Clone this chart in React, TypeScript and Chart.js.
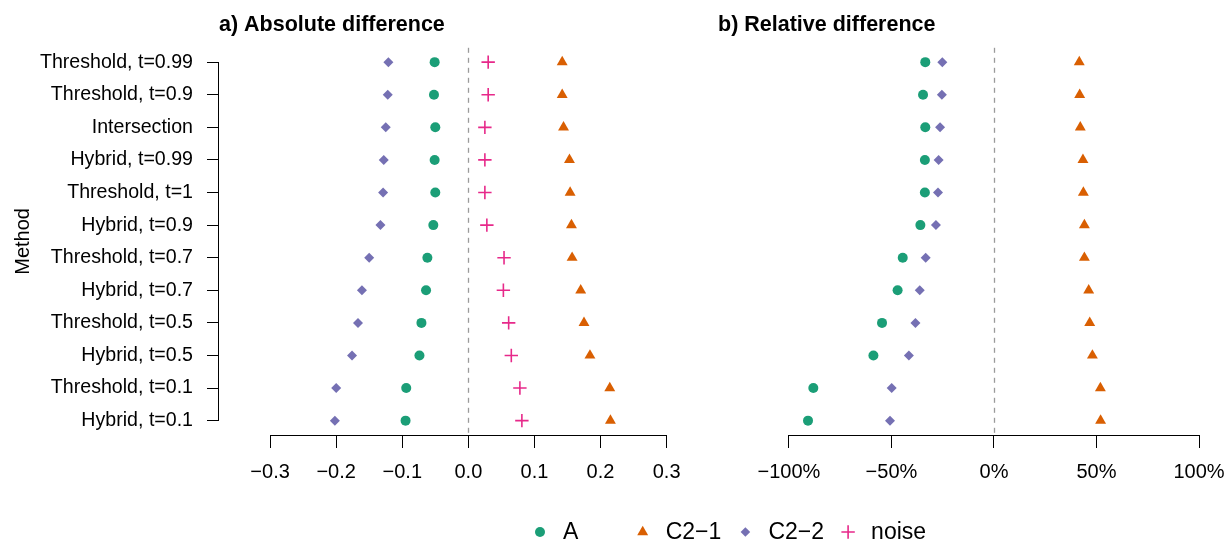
import React, { useEffect, useRef } from "react";
import { Chart, registerables } from "chart.js";
import { drawPoint } from "chart.js/helpers";

Chart.register(...registerables);

const FONT = '"Liberation Sans", Arial, Helvetica, sans-serif';

// ---------- data ----------
const categories = [
  "Threshold, t=0.99",
  "Threshold, t=0.9",
  "Intersection",
  "Hybrid, t=0.99",
  "Threshold, t=1",
  "Hybrid, t=0.9",
  "Threshold, t=0.7",
  "Hybrid, t=0.7",
  "Threshold, t=0.5",
  "Hybrid, t=0.5",
  "Threshold, t=0.1",
  "Hybrid, t=0.1",
];

const seriesNames = ["A", "C2\u22121", "C2\u22122", "noise"];

// a) absolute difference
const absA = [-0.051, -0.052, -0.05, -0.051, -0.05, -0.053, -0.062, -0.064, -0.071, -0.074, -0.094, -0.095];
const absC21 = [0.142, 0.142, 0.144, 0.153, 0.154, 0.156, 0.157, 0.17, 0.175, 0.184, 0.214, 0.215];
const absC22 = [-0.121, -0.122, -0.125, -0.128, -0.129, -0.133, -0.15, -0.161, -0.167, -0.176, -0.2, -0.202];
const absNoise = [0.03, 0.03, 0.025, 0.025, 0.025, 0.028, 0.054, 0.053, 0.061, 0.065, 0.078, 0.081];

// b) relative difference (%)
const relA = [-33.5, -34.6, -33.5, -33.7, -33.7, -35.9, -44.5, -47.0, -54.6, -58.8, -88.1, -90.7];
const relC21 = [41.6, 41.8, 42.1, 43.4, 43.6, 44.1, 44.1, 46.2, 46.7, 48.0, 51.9, 52.0];
const relC22 = [-25.2, -25.4, -26.3, -27.0, -27.3, -28.3, -33.3, -36.2, -38.3, -41.5, -49.9, -50.7];

const absTicks = [-0.3, -0.2, -0.1, 0, 0.1, 0.2, 0.3];
const relTicks = [-100, -50, 0, 50, 100];

const COL_A = "#1B9E77";
const COL_C21 = "#D95F02";
const COL_C22 = "#7570B3";
const COL_NOISE = "#E7298A";

// ---------- helpers ----------
const toPoints = (vals: number[]) => vals.map((v, i) => ({ x: v, y: i + 1 }));
const minus = (s: string) => s.replace("-", "\u2212");
const fmtAbs = (v: number) => minus((Math.abs(v) < 1e-9 ? 0 : v).toFixed(1));
const fmtRel = (v: number) => minus(`${Math.round(v)}%`);

const ds = (label: string, data: number[], style: string, color: string, radius: number, bw = 0) => ({
  label,
  data: toPoints(data),
  pointStyle: style,
  pointRadius: radius,
  pointHoverRadius: radius,
  backgroundColor: color,
  borderColor: color,
  borderWidth: bw,
  showLine: false,
});

const rAxesPlugin = {
  id: "rAxes",
  beforeDatasetsDraw(chart: any) {
    const { ctx, chartArea, scales } = chart;
    const x = scales.x;
    const x0 = Math.round(x.getPixelForValue(0)) + 0.5;
    ctx.save();
    ctx.strokeStyle = "#9a9a9a";
    ctx.lineWidth = 1.3;
    ctx.setLineDash([5, 5]);
    ctx.beginPath();
    ctx.moveTo(x0, chartArea.top);
    ctx.lineTo(x0, chartArea.bottom);
    ctx.stroke();
    ctx.restore();
  },
  afterDraw(chart: any) {
    const { ctx, chartArea, scales } = chart;
    const x = scales.x;
    const y = scales.y;
    ctx.save();
    ctx.strokeStyle = "#000";
    ctx.lineWidth = 1;
    ctx.beginPath();
    const yb = Math.round(chartArea.bottom) + 0.5;
    ctx.moveTo(x.getPixelForValue(x.ticks[0].value), yb);
    ctx.lineTo(x.getPixelForValue(x.ticks[x.ticks.length - 1].value), yb);
    if (y.options.display) {
      const xl = Math.round(chartArea.left) - 0.5;
      ctx.moveTo(xl, y.getPixelForValue(y.ticks[0].value));
      ctx.lineTo(xl, y.getPixelForValue(y.ticks[y.ticks.length - 1].value));
    }
    ctx.stroke();
    ctx.restore();
  },
};

// legend drawn in equal-width columns (as in the original R legend)
const rLegendPlugin = {
  id: "rLegend",
  afterDraw(chart: any) {
    const { ctx } = chart;
    const o = chart.options.plugins.rLegend;
    ctx.save();
    ctx.font = `${o.fontSize}px ${FONT}`;
    ctx.textBaseline = "middle";
    ctx.textAlign = "left";
    chart.data.datasets.forEach((d: any, i: number) => {
      const cx = o.startX + i * o.colWidth;
      ctx.fillStyle = d.backgroundColor;
      ctx.strokeStyle = d.borderColor;
      ctx.lineWidth = d.borderWidth;
      drawPoint(ctx, { pointStyle: d.pointStyle, radius: d.pointRadius, rotation: 0, borderWidth: d.borderWidth }, cx, o.y);
      ctx.fillStyle = "#000";
      ctx.fillText(d.label, cx + o.textGap, o.y + 1);
    });
    ctx.restore();
  },
};

const xScale = (min: number, max: number, ticks: number[], fmt: (v: number) => string) => ({
  type: "linear",
  min,
  max,
  afterBuildTicks: (s: any) => {
    s.ticks = ticks.map((v) => ({ value: v }));
  },
  afterFit: (s: any) => {
    s.height = 70;
    s.paddingLeft = 0;
    s.paddingRight = 0;
  },
  border: { display: false },
  grid: { display: true, drawOnChartArea: false, drawTicks: true, tickLength: 13, color: "#000", lineWidth: 1 },
  ticks: {
    autoSkip: false,
    maxRotation: 0,
    padding: 12,
    color: "#000",
    font: { size: 20, family: FONT },
    callback: (v: any) => fmt(Number(v)),
  },
});

const yScale = (show: boolean) => ({
  type: "linear",
  reverse: true,
  min: 0.56,
  max: categories.length + 0.44,
  display: show,
  afterBuildTicks: (s: any) => {
    s.ticks = categories.map((_, i) => ({ value: i + 1 }));
  },
  afterFit: (s: any) => {
    if (show) s.width = 219;
    s.paddingTop = 0;
    s.paddingBottom = 0;
  },
  border: { display: false },
  grid: { display: true, drawOnChartArea: false, drawTicks: true, tickLength: 12, color: "#000", lineWidth: 1 },
  ticks: {
    autoSkip: false,
    padding: 14,
    color: "#000",
    font: { size: 19.6, family: FONT },
    callback: (v: any) => categories[Number(v) - 1],
  },
  title: {
    display: show,
    text: "Method",
    color: "#000",
    font: { size: 20, family: FONT },
    padding: { top: 11, bottom: 0 },
  },
});

const titleOpts = (text: string) => ({
  display: true,
  text,
  align: "start",
  fullSize: false,
  color: "#000",
  font: { size: 21.5, weight: "bold", family: FONT },
  padding: { top: 12, bottom: 10 },
});

export default function App() {
  const leftRef = useRef<HTMLCanvasElement>(null);
  const rightRef = useRef<HTMLCanvasElement>(null);
  const legRef = useRef<HTMLCanvasElement>(null);

  useEffect(() => {
    Chart.defaults.font.family = FONT;
    Chart.defaults.color = "#000";

    const left = new Chart(leftRef.current as HTMLCanvasElement, {
      type: "scatter",
      data: {
        datasets: [
          ds(seriesNames[0], absA, "circle", COL_A, 5),
          ds(seriesNames[1], absC21, "triangle", COL_C21, 6.3),
          ds(seriesNames[2], absC22, "rectRot", COL_C22, 5),
          ds(seriesNames[3], absNoise, "cross", COL_NOISE, 6.7, 1.6),
        ] as any,
      },
      options: {
        responsive: false,
        animation: false,
        layout: { padding: { left: 0, right: 3, top: 0, bottom: 0 } },
        scales: {
          x: xScale(-0.3773, 0.3773, absTicks, fmtAbs) as any,
          y: yScale(true) as any,
        },
        plugins: {
          legend: { display: false },
          tooltip: { enabled: false },
          title: titleOpts("a) Absolute difference") as any,
        },
      },
      plugins: [rAxesPlugin],
    });

    const right = new Chart(rightRef.current as HTMLCanvasElement, {
      type: "scatter",
      data: {
        datasets: [
          ds(seriesNames[0], relA, "circle", COL_A, 5),
          ds(seriesNames[1], relC21, "triangle", COL_C21, 6.3),
          ds(seriesNames[2], relC22, "rectRot", COL_C22, 5),
        ] as any,
      },
      options: {
        responsive: false,
        animation: false,
        layout: { padding: { left: 18, right: 11, top: 0, bottom: 0 } },
        scales: {
          x: xScale(-134.6, 107.8, relTicks, fmtRel) as any,
          y: yScale(false) as any,
        },
        plugins: {
          legend: { display: false },
          tooltip: { enabled: false },
          title: titleOpts("b) Relative difference") as any,
        },
      },
      plugins: [rAxesPlugin],
    });

    const legend = new Chart(legRef.current as HTMLCanvasElement, {
      type: "scatter",
      data: {
        datasets: [
          { label: seriesNames[0], data: [], pointStyle: "circle", pointRadius: 5, backgroundColor: COL_A, borderColor: COL_A, borderWidth: 0 },
          { label: seriesNames[1], data: [], pointStyle: "triangle", pointRadius: 6.3, backgroundColor: COL_C21, borderColor: COL_C21, borderWidth: 0 },
          { label: seriesNames[2], data: [], pointStyle: "rectRot", pointRadius: 4.8, backgroundColor: COL_C22, borderColor: COL_C22, borderWidth: 0 },
          { label: seriesNames[3], data: [], pointStyle: "cross", pointRadius: 6.7, backgroundColor: COL_NOISE, borderColor: COL_NOISE, borderWidth: 1.6 },
        ] as any,
      },
      options: {
        responsive: false,
        animation: false,
        scales: { x: { display: false }, y: { display: false } },
        plugins: {
          tooltip: { enabled: false },
          title: { display: false },
          legend: { display: false },
          rLegend: { startX: 540, colWidth: 102.7, textGap: 23, y: 32, fontSize: 23 },
        } as any,
      },
      plugins: [rLegendPlugin],
    });

    return () => {
      left.destroy();
      right.destroy();
      legend.destroy();
    };
  }, []);

  return (
    <div style={{ position: "absolute", left: 0, top: 0, width: 1226, height: 543, overflow: "hidden", background: "#fff" }}>
      <canvas ref={leftRef} width={726} height={505} style={{ position: "absolute", left: 0, top: 0 }} />
      <canvas ref={rightRef} width={526} height={505} style={{ position: "absolute", left: 700, top: 0 }} />
      <canvas ref={legRef} width={1226} height={43} style={{ position: "absolute", left: 0, top: 500 }} />
    </div>
  );
}
